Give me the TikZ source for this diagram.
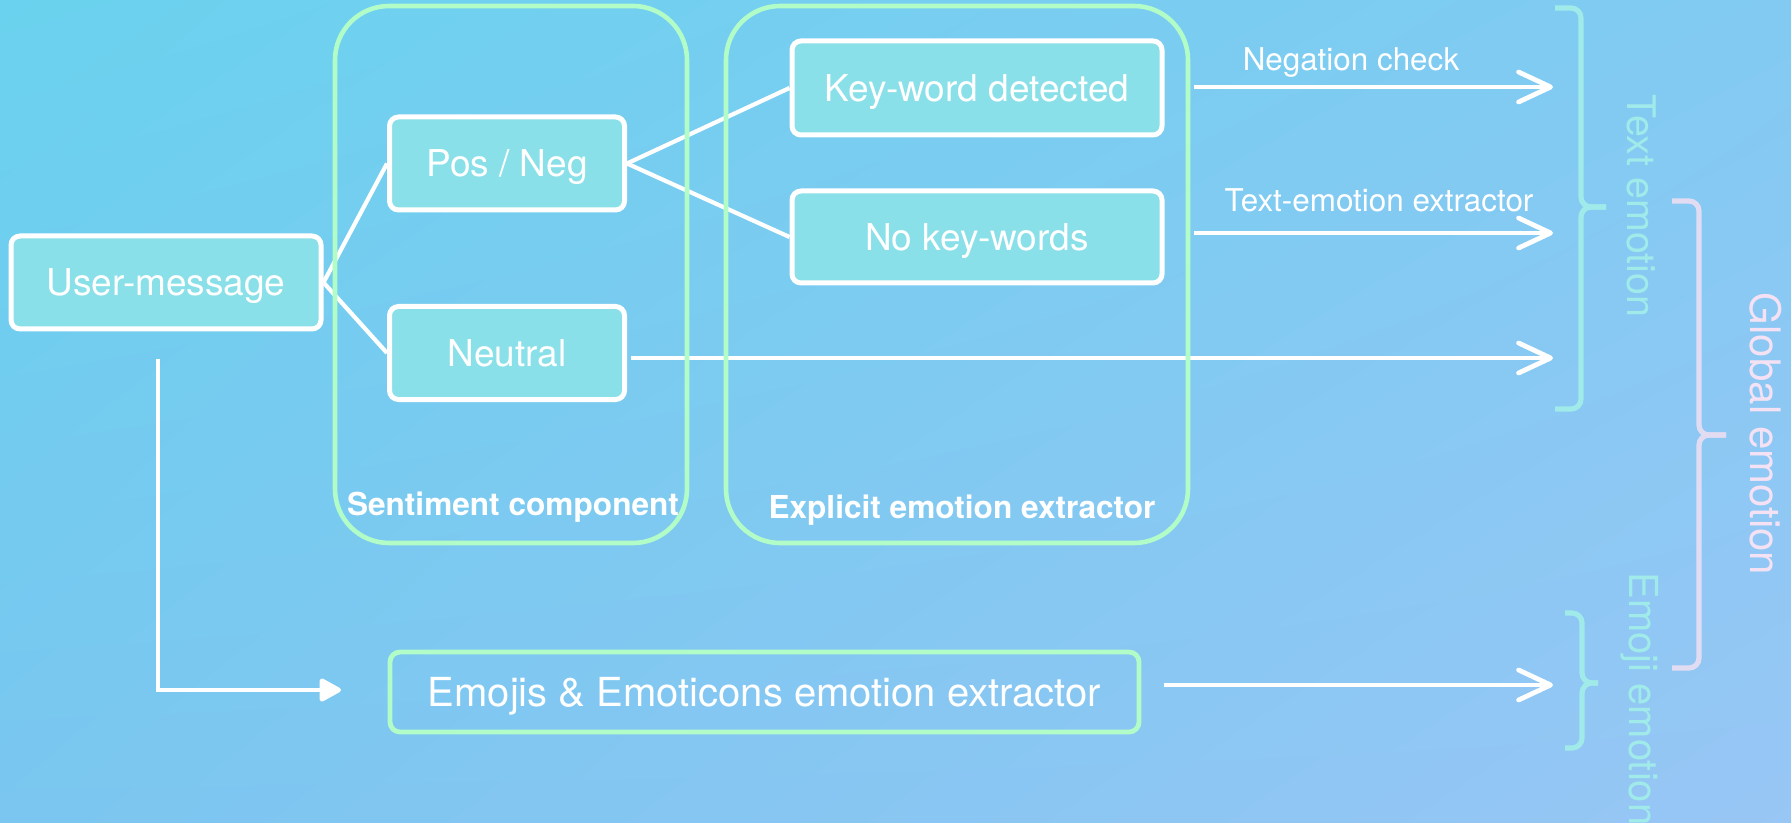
\documentclass[tikz,border=0pt]{standalone}
\usepackage{fontspec}
\setmainfont{TeX Gyre Heros}
\usetikzlibrary{arrows.meta,shadings}
\definecolor{bgUL}{RGB}{106,210,238}
\definecolor{bgUR}{RGB}{130,202,242}
\definecolor{bgLL}{RGB}{122,198,240}
\definecolor{bgLR}{RGB}{152,198,245}
\definecolor{boxfill}{RGB}{138,224,232}
\definecolor{contgreen}{RGB}{178,252,200}
\definecolor{tcyan}{RGB}{160,234,234}
\definecolor{lavbrace}{RGB}{226,220,243}
\definecolor{lavtext}{RGB}{244,226,244}
\pgfdeclarelayer{bg}
\pgfdeclarelayer{lines}
\pgfsetlayers{bg,lines,main}
\tikzset{
  box/.style={draw=white, line width=2.5pt, fill=boxfill, rounded corners=4.5pt, inner sep=0pt,
    text=white, text depth=0pt, font=\fontsize{18.5}{20}\selectfont},
  ebox/.style={draw=contgreen, line width=2.4pt, rounded corners=5pt, inner sep=0pt,
    text=white, text depth=0pt, font=\fontsize{20}{22}\selectfont},
  cont/.style={draw=contgreen, line width=2.3pt, rounded corners=27pt, inner sep=0pt},
  clab/.style={text=white, inner sep=0pt, text depth=0pt, font=\bfseries\fontsize{15.8}{18}\selectfont},
  alab/.style={text=white, inner sep=0pt, text depth=0pt, font=\fontsize{15.7}{18}\selectfont},
  rlab/.style={rotate=-90, inner sep=0pt},
  link/.style={white, line width=2.1pt},
  arr/.style={white, line width=2.4pt, -{Straight Barb[length=16pt, width=15pt, round]}},
  larr/.style={white, line width=2.3pt, -{Triangle[length=12pt, width=12.5pt, round]}},
  tbrace/.style={tcyan, line width=2.6pt, rounded corners=5pt},
  gbrace/.style={lavbrace, line width=2.6pt, rounded corners=5pt},
}
\begin{document}
\begin{tikzpicture}[x=0.5pt, y=-0.5pt]
\useasboundingbox (0,0) rectangle (1791,823);
\begin{pgfonlayer}{bg}
\shade[upper left=bgUL, upper right=bgUR, lower left=bgLL, lower right=bgLR] (0,0) rectangle (1791,823);
\end{pgfonlayer}

% containers
\node[cont, minimum width=176pt, minimum height=268.5pt] (sc) at (511,274.5) {};
\node[cont, minimum width=231pt, minimum height=268.5pt] (ee) at (957,274.5) {};
\node[clab] (scl) at (513,504) {Sentiment component};
\node[clab] (eel) at (962,507) {Explicit emotion extractor};

% boxes
\node[box, minimum width=155pt, minimum height=46.5pt] (um) at (166,282.5) {User-message};
\node[box, minimum width=117.5pt, minimum height=46.5pt] (pn) at (507,163.5) {Pos / Neg};
\node[box, minimum width=117.5pt, minimum height=46.5pt] (neu) at (507,353) {Neutral};
\node[box, minimum width=185pt, minimum height=47pt] (kw) at (977,88) {Key-word detected};
\node[box, minimum width=185pt, minimum height=46pt] (nk) at (977,237) {No key-words};
\node[ebox, minimum width=374.5pt, minimum height=40pt] (emo) at (764.5,692) {Emojis \& Emoticons emotion extractor};

% arrow labels
\node[alab] (ncl) at (1351,59) {Negation check};
\node[alab] (tel) at (1379,200) {Text-emotion extractor};

% coordinates
\coordinate (n1) at (1194,87);
\coordinate (n2) at (1553,87);
\coordinate (t1) at (1194,233);
\coordinate (t2) at (1553,233);
\coordinate (u2) at (1553,358);
\coordinate (e1) at (1164,685);
\coordinate (e2) at (1553,685);
\coordinate (l1) at (158,359);
\coordinate (l2) at (341,690);

\begin{pgfonlayer}{lines}
\draw[link] (um.east) -- (pn.west);
\draw[link] (um.east) -- (neu.west);
\draw[link] (pn.east) -- (kw.west);
\draw[link] (pn.east) -- (nk.west);
\draw[arr] (n1) -- (n2);
\draw[arr] (t1) -- (t2);
\draw[arr, shorten <=2pt] (neu.east |- u2) -- (u2);
\draw[arr] (e1) -- (e2);
\draw[larr] (l1) |- (l2);
\end{pgfonlayer}

% braces
\draw[tbrace] (1555,8) -- (1581,8) -- (1581,207) -- (1606,207);
\draw[tbrace] (1606,207) -- (1581,207) -- (1581,409) -- (1555,409);
\draw[tbrace] (1565,613) -- (1582,613) -- (1582,683) -- (1598,683);
\draw[tbrace] (1598,683) -- (1582,683) -- (1582,748) -- (1565,748);
\draw[gbrace] (1672,201) -- (1699,201) -- (1699,435) -- (1726,435);
\draw[gbrace] (1726,435) -- (1699,435) -- (1699,668) -- (1672,668);

% rotated labels
\node[rlab, text=tcyan, font=\fontsize{19.7}{22}\selectfont] (tem) at (1642,206) {Text emotion};
\node[rlab, text=lavtext, font=\fontsize{21}{24}\selectfont] (gem) at (1766,434) {Global emotion};
\node[rlab, text=tcyan, font=\fontsize{20}{22}\selectfont, anchor=west] (eem) at (1640,572) {Emoji emotion};
\end{tikzpicture}
\end{document}
